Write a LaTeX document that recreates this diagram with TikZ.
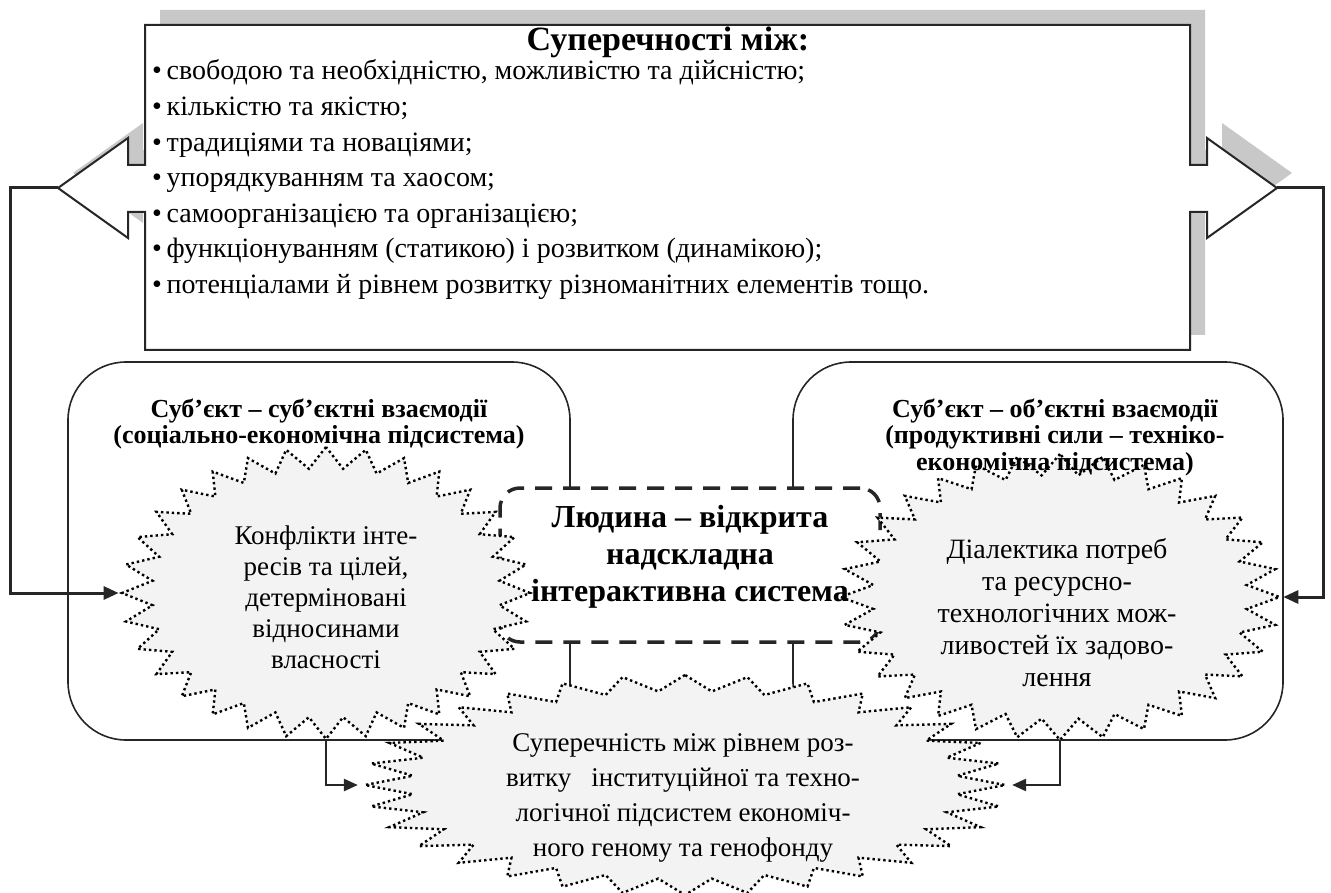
\documentclass[tikz,border=0pt]{standalone}
\usepackage{fontspec}
\setmainfont{Liberation Serif}
\usetikzlibrary{shapes.geometric, arrows.meta, positioning}

\definecolor{burstfill}{RGB}{242,243,242}
\definecolor{shadowgray}{RGB}{200,200,200}

\begin{document}
\begin{tikzpicture}[
  x=1pt, y=-1pt,
  callout/.style={insert path={
    (145,25) -- (1190,25) -- (1190,165) -- (1207,165) -- (1207,138) -- (1277,188)
    -- (1207,238) -- (1207,212) -- (1190,212) -- (1190,350) -- (145,350) -- (145,212)
    -- (128,212) -- (128,238) -- (58,188) -- (128,138) -- (128,165) -- (145,165) -- cycle}},
  panel/.style={draw=black!85, line width=1.6pt, rounded corners=58pt},
  headtext/.style={font=\fontsize{26}{26.5}\selectfont\bfseries, align=center, inner sep=0pt},
  burst/.style={star, star points=32, star point ratio=1.17, transform shape,
    draw=black, fill=burstfill, line width=2.4pt, dash pattern=on 2.4pt off 3pt, inner sep=0pt},
  bursttext/.style={font=\fontsize{27}{31}\selectfont, align=center},
  hub/.style={draw=black!85, fill=white, line width=3.5pt, dash pattern=on 17pt off 11pt,
    rounded corners=20pt, minimum width=380pt, minimum height=154pt},
  hubtext/.style={font=\fontsize{32}{37}\selectfont\bfseries, align=center},
  item/.style={font=\fontsize{28}{34}\selectfont, anchor=base west, inner sep=0pt},
  feedback/.style={draw=black!85, line width=3pt, -{Triangle[length=15pt,width=13pt]}},
  tie/.style={draw=black!85, line width=2.5pt, -{Triangle[length=14pt,width=12pt]}}
]
\useasboundingbox (0,0) rectangle (1331,893);

% top box with two arrow ends
\fill[shadowgray, shift={(15,-15)}, callout];
\draw[black!85, line width=2pt, fill=white, callout];
\coordinate (tipL) at (58,188);
\coordinate (tipR) at (1277,188);

\node[font=\fontsize{34}{38}\selectfont\bfseries, anchor=base, inner sep=0pt] (title) at (668,51) {Суперечності між:};
\foreach \txt [count=\i] in {
  {свободою та  необхідністю,  можливістю та  дійсністю;},
  {кількістю та якістю;},
  {традиціями та новаціями;},
  {упорядкуванням та  хаосом;},
  {самоорганізацією  та організацією;},
  {функціонуванням (статикою) і  розвитком (динамікою);},
  {потенціалами  й  рівнем розвитку  різноманітних елементів  тощо.}}
  \node[item] (item\i) at (152,{80+35.6*(\i-1)}) {\textbullet\,\txt};

% two subsystems
\node[panel, minimum width=502pt, minimum height=378pt] (lpanel) at (319,551) {};
\node[panel, minimum width=490pt, minimum height=378pt] (rpanel) at (1038,551) {};

% human as a system
\node[hub] (hub) at (690,565) {};

\begin{scope}[shift={(326,593)}, xscale=1.397]
  \node[burst, minimum size=292pt] (lstar) {};
\end{scope}
\begin{scope}[shift={(1060,597)}, xscale=1.535]
  \node[burst, minimum size=286pt] (rstar) {};
\end{scope}
\begin{scope}[shift={(685,785)}, xscale=2.909]
  \node[burst, minimum size=220pt] (bigstar) {};
\end{scope}

\node[bursttext] (ltext) at (326,597) {Конфлікти  інте-\\ресів та цілей,\\детерміновані\\відносинами\\власності};
\node[bursttext, font=\fontsize{28}{32}\selectfont] (rtext) at (1057,613) {Діалектика   потреб\\та  ресурсно-\\технологічних  мож-\\ливостей їх  задово-\\лення};
\node[bursttext, font=\fontsize{27}{35}\selectfont] (bigtext) at (683,798) {Суперечність  між рівнем роз-\\витку \ \ інституційної та техно-\\логічної  підсистем  економіч-\\ного геному  та  генофонду};
\node[hubtext] (hubtxt) at ([yshift=8pt]hub.center) {Людина – відкрита\\надскладна\\інтерактивна система};

\node[headtext, below=37pt of lpanel.north] (lhead) {Суб’єкт – суб’єктні взаємодії\\(соціально-економічна підсистема)};
\node[headtext, below=37pt of rpanel.north, xshift=17pt] (rhead) {Суб’єкт – об’єктні взаємодії\\(продуктивні сили –  техніко-\\економічна підсистема)};

% connectors
\draw[feedback] (tipL) -- ++(-48,0) |- (lstar.west);
\draw[feedback] (tipR) -- ++(46,0) |- (rstar.east);
\draw[tie] (lpanel.south -| lstar.center) |- (bigstar.west);
\draw[tie] (rpanel.south -| rstar.center) |- (bigstar.east);

\end{tikzpicture}
\end{document}
